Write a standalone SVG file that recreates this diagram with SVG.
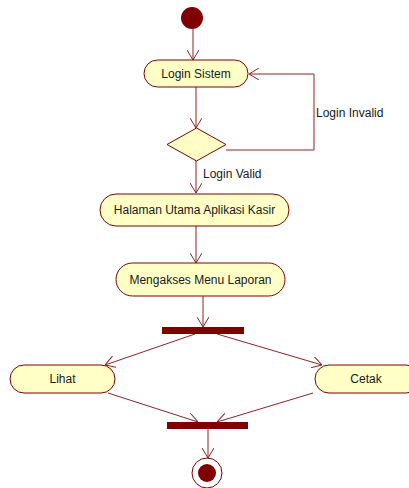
<svg xmlns="http://www.w3.org/2000/svg" width="409" height="488" viewBox="0 0 409 488">
  <style>
    .act { fill: #ffffc6; stroke: #800000; stroke-width: 1; }
    .bar { fill: #800000; }
    .lbl { font-family: "Liberation Sans", Arial, sans-serif; font-size: 12px; fill: #1a1a1a; text-anchor: middle; }
    .note { font-family: "Liberation Sans", Arial, sans-serif; font-size: 12px; fill: #1a1a1a; }
    .flow { fill: none; stroke: #8b2525; stroke-width: 1; marker-end: url(#open); }
  </style>
  <defs>
    <marker id="open" viewBox="0 0 10 12" refX="10" refY="6" markerWidth="10" markerHeight="12" markerUnits="userSpaceOnUse" orient="auto">
      <path d="M0,0 L10,6 L0,12" fill="none" stroke="#8b2525" stroke-width="1"/>
    </marker>
  </defs>

  <!-- flows -->
  <g id="connectors">
    <line class="flow" x1="193" y1="29" x2="193" y2="60"/>
    <line class="flow" x1="196" y1="87" x2="196" y2="128"/>
    <polyline class="flow" points="226,150 314,150 314,74 249,74"/>
    <line class="flow" x1="196" y1="161" x2="196" y2="193"/>
    <line class="flow" x1="196" y1="226" x2="196" y2="263"/>
    <line class="flow" x1="203" y1="296" x2="203" y2="327"/>
    <line class="flow" x1="195" y1="334" x2="105" y2="365"/>
    <line class="flow" x1="217" y1="334" x2="322" y2="365"/>
    <line class="flow" x1="108" y1="393" x2="198" y2="422"/>
    <line class="flow" x1="313" y1="393" x2="217" y2="422"/>
    <line class="flow" x1="208" y1="429" x2="208" y2="458"/>
    <text class="note" x="316" y="117">Login Invalid</text>
    <text class="note" x="203" y="178">Login Valid</text>
  </g>

  <g id="start">
    <circle cx="192" cy="18" r="11" fill="#800000"/>
  </g>

  <g id="login">
    <rect class="act" x="144" y="60" width="104" height="27" rx="13.5"/>
    <text class="lbl" x="196" y="78">Login Sistem</text>
  </g>

  <g id="decision">
    <polygon class="act" points="196.5,128 226,144.5 196.5,161 167,144.5"/>
  </g>

  <g id="halaman">
    <rect class="act" x="100" y="194" width="189" height="32" rx="16"/>
    <text class="lbl" x="194.5" y="214">Halaman Utama Aplikasi Kasir</text>
  </g>

  <g id="menu">
    <rect class="act" x="116" y="263" width="169" height="33" rx="16.5"/>
    <text class="lbl" x="200.5" y="283.5">Mengakses Menu Laporan</text>
  </g>

  <g id="fork">
    <rect class="bar" x="162" y="327" width="82" height="7"/>
  </g>

  <g id="lihat">
    <rect class="act" x="10" y="365" width="105" height="28" rx="14"/>
    <text class="lbl" x="62.5" y="383">Lihat</text>
  </g>

  <g id="cetak">
    <rect class="act" x="315" y="365" width="105" height="28" rx="14"/>
    <text class="lbl" x="366" y="383">Cetak</text>
  </g>

  <g id="join">
    <rect class="bar" x="167" y="422" width="81" height="7"/>
  </g>

  <g id="end">
    <circle cx="207" cy="473" r="15" fill="#ffffff" stroke="#800000" stroke-width="1"/>
    <circle cx="207" cy="473" r="9" fill="#800000"/>
  </g>
</svg>
